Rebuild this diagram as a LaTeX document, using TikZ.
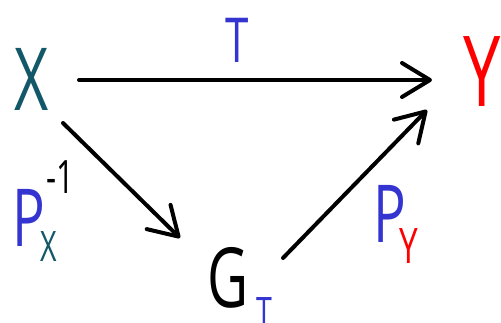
\documentclass[tikz,border=0pt]{standalone}
\usepackage{fontspec}
\setmainfont{Open Sans}
\usetikzlibrary{arrows.meta}
\definecolor{tealX}{RGB}{18,88,104}
\definecolor{blueT}{RGB}{52,52,208}
\definecolor{redY}{RGB}{255,0,0}
\tikzset{
  lbl/.style={inner sep=0pt, outer sep=0pt, anchor=center},
  conn/.style={line width=4pt, line cap=round, black,
    -{Straight Barb[length=28pt 0, width=34pt 0, round]}},
}
\newcommand{\fs}[2]{\scalebox{0.68}[1]{\fontsize{#1}{#1}\selectfont #2}}
\begin{document}
\begin{tikzpicture}[x=1pt,y=-1pt]
\useasboundingbox (0,0) rectangle (501,322);
\node[lbl, text=tealX] (X) at (32,79) {\fs{87pt}{X}};
\node[lbl, text=redY] (Y) at (482,72) {\fs{98pt}{Y}};
\node[lbl, text=blueT] (T) at (237,40) {\fs{62pt}{T}};
\node[lbl, text=black] (G) at (228,278) {\fs{83pt}{G}};
\node[lbl, text=blueT] (GT) at (264,313) {\fs{42pt}{T}};
\node[lbl, text=blueT] (PX) at (29,218) {\fs{80pt}{P}};
\node[lbl, text=black] (inv) at (60,177) {\fs{46pt}{-1}};
\node[lbl, text=tealX] (PXs) at (49,247) {\fs{42pt}{X}};
\node[lbl, text=blueT] (PY) at (390,214) {\fs{80pt}{P}};
\node[lbl, text=redY] (PYs) at (409,246) {\fs{49pt}{Y}};
\draw[conn] ([shift={(47,1)}]X.center) -- ([shift={(-50,8)}]Y.center);
\draw[conn] ([shift={(31,44)}]X.center) -- ([shift={(-48,-40)}]G.center);
\draw[conn] ([shift={(55,-20)}]G.center) -- ([shift={(-55,38)}]Y.center);
\end{tikzpicture}
\end{document}
